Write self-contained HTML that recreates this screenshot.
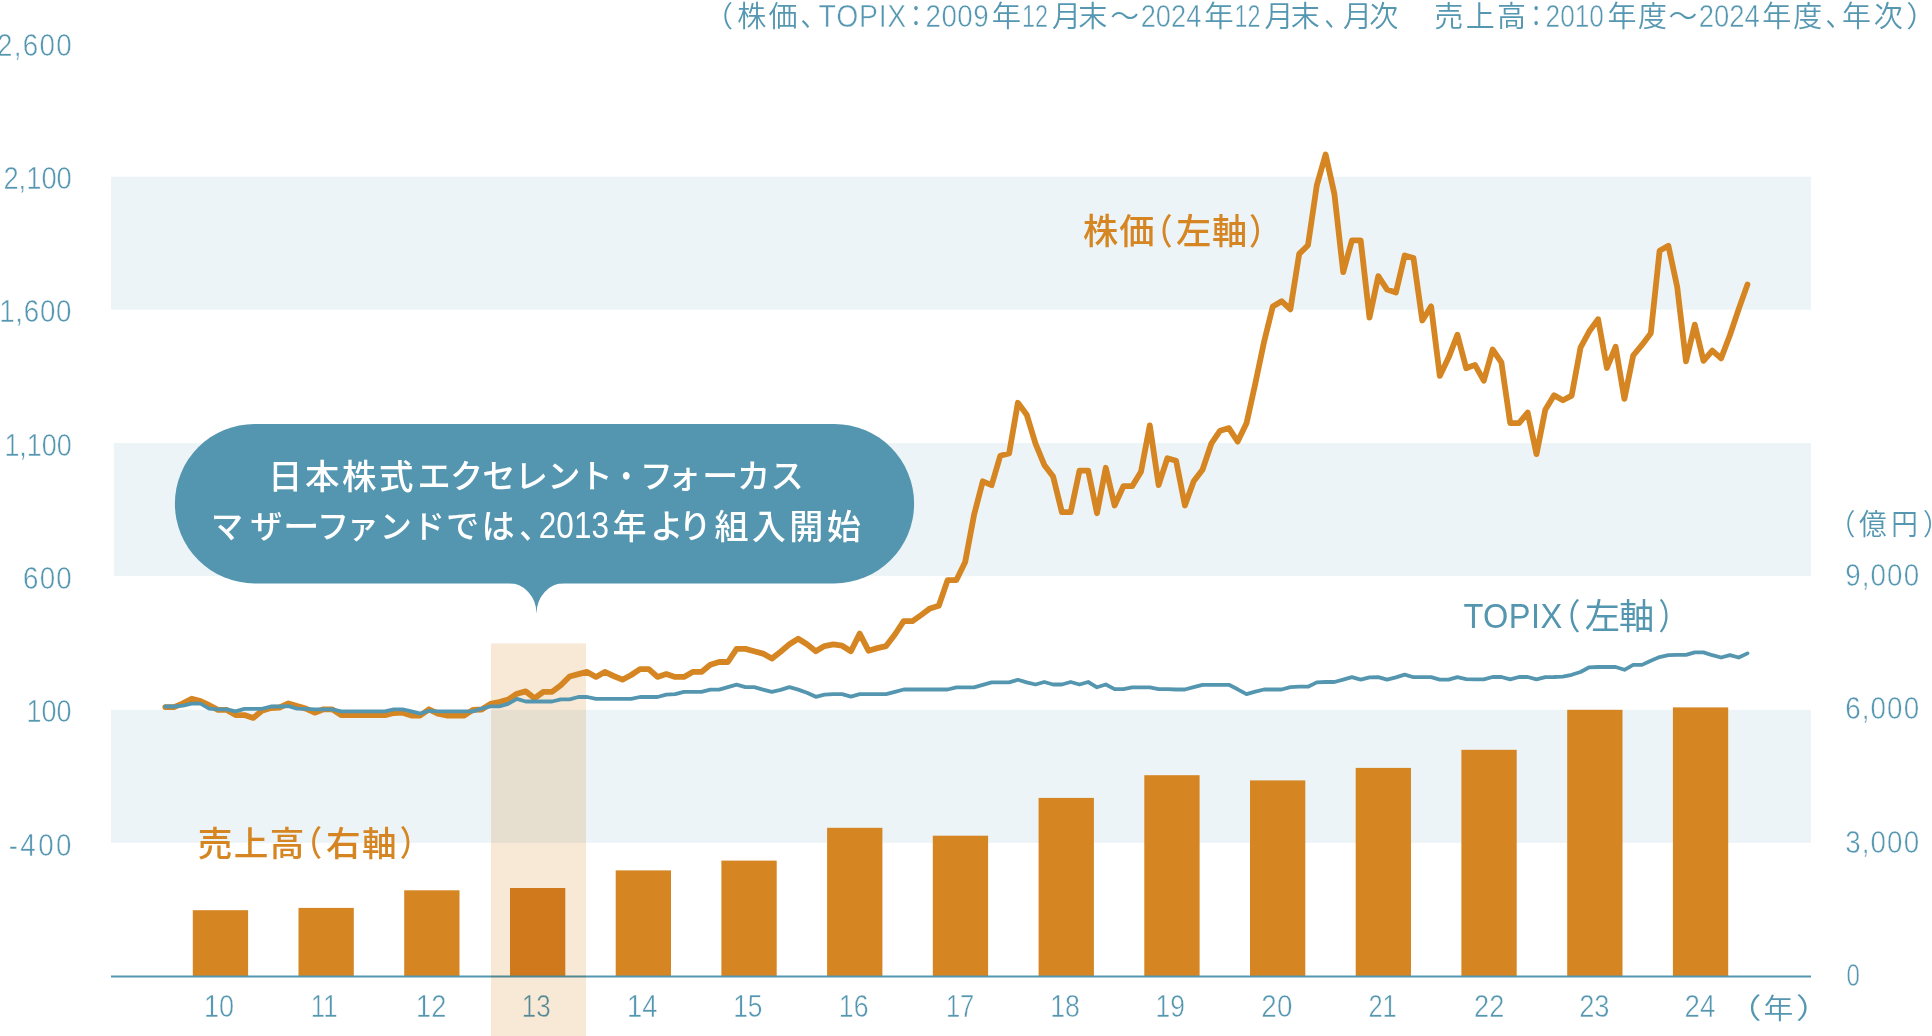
<!DOCTYPE html>
<html lang="ja"><head><meta charset="utf-8"><title>株価・TOPIX・売上高</title>
<style>
html,body{margin:0;padding:0;background:#fff;}
body{width:1932px;height:1036px;overflow:hidden;}
svg{display:block;}
text{font-family:"Liberation Sans","Noto Sans CJK JP",sans-serif;white-space:pre;}
</style></head><body>
<svg width="1932" height="1036" viewBox="0 0 1932 1036">
<rect x="111" y="176.7" width="1700" height="133" fill="#edf4f7"/>
<rect x="113.8" y="443.1" width="1697.2" height="132.8" fill="#edf4f7"/>
<rect x="111" y="709.8" width="1700" height="133" fill="#edf4f7"/>
<g fill="#d58521">
<rect x="192.8" y="910.2" width="55.3" height="65.8"/>
<rect x="298.5" y="907.9" width="55.3" height="68.1"/>
<rect x="404.2" y="890.3" width="55.3" height="85.7"/>
<rect x="510.0" y="888.0" width="55.3" height="88.0"/>
<rect x="615.7" y="870.4" width="55.3" height="105.6"/>
<rect x="721.4" y="860.6" width="55.3" height="115.4"/>
<rect x="827.1" y="827.8" width="55.3" height="148.2"/>
<rect x="932.8" y="835.7" width="55.3" height="140.3"/>
<rect x="1038.6" y="797.9" width="55.3" height="178.1"/>
<rect x="1144.3" y="775.2" width="55.3" height="200.8"/>
<rect x="1250.0" y="780.4" width="55.3" height="195.6"/>
<rect x="1355.7" y="767.9" width="55.3" height="208.1"/>
<rect x="1461.4" y="749.8" width="55.3" height="226.2"/>
<rect x="1567.2" y="709.8" width="55.3" height="266.2"/>
<rect x="1672.9" y="707.4" width="55.3" height="268.6"/>
</g>
<rect x="111" y="975.5" width="1700" height="2" fill="#5496af"/>
<g fill="#5597b1"><text font-size="31.55" font-weight="400" transform="translate(204.08 1017.08) scale(0.8575 1)" stroke="#fff" stroke-width="0.5">10</text></g>
<g fill="#5597b1"><text font-size="31.55" font-weight="400" transform="translate(310.87 1017.08) scale(0.8152 1)" stroke="#fff" stroke-width="0.5">11</text></g>
<g fill="#5597b1"><text font-size="31.55" font-weight="400" transform="translate(416.07 1017.08) scale(0.8625 1)" stroke="#fff" stroke-width="0.5">12</text></g>
<g fill="#5597b1"><text font-size="31.55" font-weight="400" transform="translate(521.85 1017.08) scale(0.8237 1)" stroke="#fff" stroke-width="0.5">13</text></g>
<g fill="#5597b1"><text font-size="31.55" font-weight="400" transform="translate(627.07 1017.08) scale(0.8667 1)" stroke="#fff" stroke-width="0.5">14</text></g>
<g fill="#5597b1"><text font-size="31.55" font-weight="400" transform="translate(733.13 1017.08) scale(0.8360 1)" stroke="#fff" stroke-width="0.5">15</text></g>
<g fill="#5597b1"><text font-size="31.55" font-weight="400" transform="translate(838.81 1017.08) scale(0.8452 1)" stroke="#fff" stroke-width="0.5">16</text></g>
<g fill="#5597b1"><text font-size="31.55" font-weight="400" transform="translate(945.88 1017.08) scale(0.8086 1)" stroke="#fff" stroke-width="0.5">17</text></g>
<g fill="#5597b1"><text font-size="31.55" font-weight="400" transform="translate(1050.21 1017.08) scale(0.8452 1)" stroke="#fff" stroke-width="0.5">18</text></g>
<g fill="#5597b1"><text font-size="31.55" font-weight="400" transform="translate(1155.53 1017.08) scale(0.8360 1)" stroke="#fff" stroke-width="0.5">19</text></g>
<g fill="#5597b1"><text font-size="31.55" font-weight="400" transform="translate(1261.32 1017.08) scale(0.8800 1)" letter-spacing="0.33" stroke="#fff" stroke-width="0.5">20</text></g>
<g fill="#5597b1"><text font-size="31.55" font-weight="400" transform="translate(1368.39 1017.08) scale(0.8053 1)" stroke="#fff" stroke-width="0.5">21</text></g>
<g fill="#5597b1"><text font-size="31.55" font-weight="400" transform="translate(1474.04 1017.08) scale(0.8606 1)" stroke="#fff" stroke-width="0.5">22</text></g>
<g fill="#5597b1"><text font-size="31.55" font-weight="400" transform="translate(1579.14 1017.08) scale(0.8647 1)" stroke="#fff" stroke-width="0.5">23</text></g>
<g fill="#5597b1"><text font-size="31.55" font-weight="400" transform="translate(1684.62 1017.08) scale(0.8767 1)" stroke="#fff" stroke-width="0.5">24</text></g>
<rect x="491" y="643.4" width="95" height="392.6" fill="#f8e8d6" style="mix-blend-mode:multiply"/>
<polyline fill="none" stroke="#d58521" stroke-width="5.8" stroke-linejoin="round" stroke-linecap="round" points="165.3,707.1 174.1,707.1 182.9,703.4 191.7,698.7 200.5,701.1 209.2,705.2 218.0,709.9 226.8,709.9 235.6,715.1 244.4,715.1 253.2,717.9 262.0,710.8 270.8,708.0 279.6,707.5 288.4,703.4 297.1,706.1 305.9,708.6 314.7,712.7 323.5,709.3 332.3,709.3 341.1,715.1 349.9,715.1 358.7,715.1 367.5,715.1 376.3,715.1 385.0,715.1 393.8,713.0 402.6,712.7 411.4,715.5 420.2,715.5 429.0,709.3 437.8,713.6 446.6,715.5 455.4,715.5 464.2,715.5 472.9,709.9 481.7,709.5 490.5,703.9 499.3,702.0 508.1,699.6 516.9,693.7 525.7,691.4 534.5,698.3 543.3,691.8 552.1,691.8 560.8,685.3 569.6,676.5 578.4,674.1 587.2,671.9 596.0,676.9 604.8,671.9 613.6,676.0 622.4,679.7 631.2,675.0 640.0,669.1 648.8,669.1 657.5,676.9 666.3,674.1 675.1,676.9 683.9,676.9 692.7,671.9 701.5,671.9 710.3,664.8 719.1,662.0 727.9,662.0 736.6,648.9 745.4,648.9 754.2,651.2 763.0,653.6 771.8,658.6 780.6,651.7 789.4,644.3 798.2,638.7 807.0,644.3 815.8,651.2 824.5,646.1 833.3,644.3 842.1,645.7 850.9,651.3 859.7,633.6 868.5,650.7 877.3,648.1 886.1,646.1 894.9,634.5 903.7,621.1 912.5,621.1 921.2,615.0 930.0,608.4 938.8,605.7 947.6,580.1 956.4,580.1 965.2,561.9 974.0,515.1 982.8,481.3 991.6,485.2 1000.3,455.7 1009.1,453.4 1017.9,402.8 1026.7,414.7 1035.5,443.7 1044.3,464.9 1053.1,476.5 1061.9,512.2 1070.7,512.2 1079.5,470.7 1088.2,470.7 1097.0,513.2 1105.8,467.8 1114.6,505.5 1123.4,486.2 1132.2,486.2 1141.0,471.7 1149.8,425.4 1158.6,485.2 1167.4,458.2 1176.1,460.7 1184.9,505.5 1193.7,481.3 1202.5,469.8 1211.3,443.7 1220.1,430.7 1228.9,428.1 1237.7,441.6 1246.5,423.3 1255.3,383.6 1264.0,342.1 1272.8,306.4 1281.6,301.2 1290.4,309.3 1299.2,253.9 1308.0,245.2 1316.8,185.4 1325.6,154.5 1334.4,194.0 1343.2,272.2 1351.9,240.4 1360.7,240.4 1369.5,317.6 1378.3,276.1 1387.1,289.6 1395.9,292.5 1404.7,255.4 1413.5,258.1 1422.3,320.5 1431.1,306.4 1439.8,375.9 1448.6,357.6 1457.4,334.8 1466.2,368.2 1475.0,364.9 1483.8,380.7 1492.6,349.5 1501.4,362.4 1510.2,423.2 1519.0,423.2 1527.7,412.6 1536.5,454.1 1545.3,409.7 1554.1,395.2 1562.9,400.3 1571.7,395.6 1580.5,347.7 1589.3,331.3 1598.1,319.2 1606.9,368.0 1615.6,346.8 1624.4,398.9 1633.2,355.5 1642.0,344.9 1650.8,333.3 1659.6,250.8 1668.4,245.8 1677.2,286.9 1686.0,361.3 1694.8,324.6 1703.5,360.9 1712.3,350.6 1721.1,358.4 1729.9,335.2 1738.7,309.1 1747.5,284.4"/>
<polyline fill="none" stroke="#5496af" stroke-width="3.8" stroke-linejoin="round" stroke-linecap="round" points="165.3,706.5 174.1,706.5 182.9,705.6 191.7,703.7 200.5,703.7 209.2,708.6 218.0,709.3 226.8,709.3 235.6,711.4 244.4,708.9 253.2,708.9 262.0,708.9 270.8,706.5 279.6,706.5 288.4,706.1 297.1,708.6 305.9,708.9 314.7,709.3 323.5,709.3 332.3,709.3 341.1,711.4 349.9,711.4 358.7,711.4 367.5,711.4 376.3,711.4 385.0,711.4 393.8,709.3 402.6,709.3 411.4,711.4 420.2,713.6 429.0,710.8 437.8,711.4 446.6,711.4 455.4,711.4 464.2,711.4 472.9,711.4 481.7,708.6 490.5,706.3 499.3,706.3 508.1,703.9 516.9,698.9 525.7,701.5 534.5,701.5 543.3,701.5 552.1,701.5 560.8,699.3 569.6,699.3 578.4,697.0 587.2,697.0 596.0,698.9 604.8,698.9 613.6,698.9 622.4,698.9 631.2,698.9 640.0,697.0 648.8,697.0 657.5,697.0 666.3,694.6 675.1,694.2 683.9,691.8 692.7,691.8 701.5,691.8 710.3,689.6 719.1,689.6 727.9,687.1 736.6,684.7 745.4,687.1 754.2,687.1 763.0,689.6 771.8,691.8 780.6,689.9 789.4,687.1 798.2,689.6 807.0,692.7 815.8,696.8 824.5,694.6 833.3,694.2 842.1,694.2 850.9,696.6 859.7,694.2 868.5,694.2 877.3,694.2 886.1,694.2 894.9,691.9 903.7,689.5 912.5,689.5 921.2,689.5 930.0,689.5 938.8,689.5 947.6,689.5 956.4,687.3 965.2,687.3 974.0,687.3 982.8,684.8 991.6,682.4 1000.3,682.4 1009.1,682.4 1017.9,679.8 1026.7,682.4 1035.5,684.5 1044.3,682.0 1053.1,684.5 1061.9,684.5 1070.7,682.0 1079.5,684.5 1088.2,682.0 1097.0,687.3 1105.8,684.5 1114.6,689.1 1123.4,689.1 1132.2,687.3 1141.0,687.3 1149.8,687.3 1158.6,689.1 1167.4,689.1 1176.1,689.5 1184.9,689.5 1193.7,687.1 1202.5,684.8 1211.3,684.8 1220.1,684.8 1228.9,684.8 1237.7,689.3 1246.5,694.2 1255.3,691.7 1264.0,689.5 1272.8,689.5 1281.6,689.5 1290.4,687.1 1299.2,686.7 1308.0,686.7 1316.8,682.4 1325.6,682.0 1334.4,682.0 1343.2,679.6 1351.9,677.2 1360.7,679.6 1369.5,677.4 1378.3,677.2 1387.1,679.6 1395.9,677.4 1404.7,674.6 1413.5,677.2 1422.3,677.2 1431.1,677.2 1439.8,679.6 1448.6,679.6 1457.4,677.2 1466.2,679.1 1475.0,679.4 1483.8,679.4 1492.6,677.0 1501.4,677.0 1510.2,679.4 1519.0,677.0 1527.7,677.0 1536.5,679.4 1545.3,677.2 1554.1,677.0 1562.9,676.6 1571.7,674.8 1580.5,672.0 1589.3,667.3 1598.1,667.0 1606.9,667.0 1615.6,667.0 1624.4,669.8 1633.2,664.9 1642.0,664.9 1650.8,660.8 1659.6,657.1 1668.4,655.2 1677.2,654.8 1686.0,654.8 1694.8,652.4 1703.5,652.4 1712.3,655.2 1721.1,657.5 1729.9,655.2 1738.7,657.5 1747.5,653.4"/>
<rect x="174.9" y="423.9" width="739.2" height="159.5" rx="79.75" fill="#5496af"/>
<path d="M508.4,583 A28.1,30.4 0 0 1 536.5,613.4 A28.1,30.4 0 0 1 564.6,583 Z" fill="#5496af"/>
<g fill="#5597b1"><text font-size="29.04" font-weight="350" transform="translate(704.10 26.59)">（</text><text font-size="29.04" font-weight="350" transform="translate(737.20 26.59)" letter-spacing="2.17">株価</text><text font-size="29.04" font-weight="350" transform="translate(800.61 26.59) scale(0.8889 1)">、</text><text font-size="30.86" font-weight="400" transform="translate(818.60 27.09) scale(0.9200 1)" letter-spacing="0.81" stroke="#fff" stroke-width="0.5">TOPIX</text><text font-size="29.04" font-weight="350" transform="translate(903.58 26.59) scale(0.8600 1)">：</text><text font-size="31.55" font-weight="400" transform="translate(925.52 27.08) scale(0.8800 1)" letter-spacing="0.54" stroke="#fff" stroke-width="0.5">2009</text><text font-size="29.04" font-weight="350" transform="translate(991.79 26.59) scale(1.0111 1)">年</text><text font-size="31.55" font-weight="400" transform="translate(1022.02 27.08) scale(0.7420 1)" stroke="#fff" stroke-width="0.5">12</text><text font-size="29.04" font-weight="350" transform="translate(1052.00 26.59)" letter-spacing="-2.73">月末</text><text font-size="29.04" font-weight="350" transform="translate(1110.31 26.59) scale(0.9926 1)">～</text><text font-size="31.55" font-weight="400" transform="translate(1140.74 27.08) scale(0.8629 1)" stroke="#fff" stroke-width="0.5">2024</text><text font-size="29.04" font-weight="350" transform="translate(1204.29 26.59) scale(1.0148 1)">年</text><text font-size="31.55" font-weight="400" transform="translate(1234.62 27.08) scale(0.7388 1)" stroke="#fff" stroke-width="0.5">12</text><text font-size="29.04" font-weight="350" transform="translate(1264.50 26.59)" letter-spacing="-2.73">月末</text><text font-size="29.04" font-weight="350" transform="translate(1324.58 26.59) scale(0.8222 1)">、</text><text font-size="29.04" font-weight="350" transform="translate(1343.00 26.59)" letter-spacing="-2.83">月次</text><text font-size="29.04" font-weight="350" transform="translate(1404.00 26.59)">　</text><text font-size="29.04" font-weight="350" transform="translate(1434.30 26.59)" letter-spacing="2.32">売上高</text><text font-size="29.04" font-weight="350" transform="translate(1524.26 26.59) scale(0.8200 1)">：</text><text font-size="31.55" font-weight="400" transform="translate(1545.57 27.08) scale(0.8308 1)" stroke="#fff" stroke-width="0.5">2010</text><text font-size="29.04" font-weight="350" transform="translate(1607.50 26.59)" letter-spacing="1.47">年度</text><text font-size="29.04" font-weight="350" transform="translate(1668.41 26.59) scale(0.9926 1)">～</text><text font-size="31.55" font-weight="400" transform="translate(1698.73 27.08) scale(0.8702 1)" stroke="#fff" stroke-width="0.5">2024</text><text font-size="29.04" font-weight="350" transform="translate(1762.20 26.59)" letter-spacing="2.07">年度</text><text font-size="29.04" font-weight="350" transform="translate(1825.51 26.59) scale(0.8889 1)">、</text><text font-size="29.04" font-weight="350" transform="translate(1841.90 26.59)" letter-spacing="2.77">年次</text><text font-size="29.04" font-weight="350" transform="translate(1906.24 26.59) scale(1.0625 1)">）</text></g>
<g fill="#5597b1"><text font-size="31.55" font-weight="400" transform="translate(-3.08 55.58) scale(0.8800 1)" letter-spacing="1.54" stroke="#fff" stroke-width="0.5">2,600</text></g>
<g fill="#5597b1"><text font-size="31.55" font-weight="400" transform="translate(3.43 188.88) scale(0.8660 1)" stroke="#fff" stroke-width="0.5">2,100</text></g>
<g fill="#5597b1"><text font-size="31.55" font-weight="400" transform="translate(-0.76 322.38) scale(0.8800 1)" letter-spacing="0.79" stroke="#fff" stroke-width="0.5">1,600</text></g>
<g fill="#5597b1"><text font-size="31.55" font-weight="400" transform="translate(4.39 455.58) scale(0.8538 1)" stroke="#fff" stroke-width="0.5">1,100</text></g>
<g fill="#5597b1"><text font-size="31.55" font-weight="400" transform="translate(23.12 588.88) scale(0.8800 1)" letter-spacing="1.34" stroke="#fff" stroke-width="0.5">600</text></g>
<g fill="#5597b1"><text font-size="31.55" font-weight="400" transform="translate(26.59 722.28) scale(0.8528 1)" stroke="#fff" stroke-width="0.5">100</text></g>
<g fill="#5597b1"><text font-size="31.55" font-weight="400" transform="translate(8.72 855.58) scale(0.8800 1)" letter-spacing="2.73" stroke="#fff" stroke-width="0.5">-400</text></g>
<g fill="#5597b1"><text font-size="31.55" font-weight="400" transform="translate(1845.22 585.88) scale(0.8800 1)" letter-spacing="1.25" stroke="#fff" stroke-width="0.5">9,000</text></g>
<g fill="#5597b1"><text font-size="31.55" font-weight="400" transform="translate(1845.22 719.38) scale(0.8800 1)" letter-spacing="1.25" stroke="#fff" stroke-width="0.5">6,000</text></g>
<g fill="#5597b1"><text font-size="31.55" font-weight="400" transform="translate(1845.22 852.68) scale(0.8800 1)" letter-spacing="1.25" stroke="#fff" stroke-width="0.5">3,000</text></g>
<g fill="#5597b1"><text font-size="31.55" font-weight="400" transform="translate(1846.44 985.88) scale(0.7625 1)" stroke="#fff" stroke-width="0.5">0</text></g>
<g fill="#5597b1"><text font-size="29.03" font-weight="350" transform="translate(1828.40 535.39) scale(0.9250 1)">（</text><text font-size="29.03" font-weight="350" transform="translate(1859.10 535.39) scale(0.9552 1)">億</text><text font-size="29.03" font-weight="350" transform="translate(1891.37 535.39) scale(0.9160 1)">円</text><text font-size="29.03" font-weight="350" transform="translate(1922.88 535.39) scale(0.9250 1)">）</text></g>
<g fill="#5597b1"><text font-size="28.19" font-weight="350" transform="translate(1726.25 1018.96) scale(1.2500 1)">（</text><text font-size="28.19" font-weight="350" transform="translate(1763.44 1018.96) scale(1.0577 1)">年</text><text font-size="28.19" font-weight="350" transform="translate(1795.71 1018.96) scale(1.2875 1)">）</text></g>
<g fill="#d58521"><text font-size="35.21" font-weight="500" transform="translate(1083.00 243.53)" letter-spacing="1.00">株価</text><text font-size="35.21" font-weight="500" transform="translate(1141.31 243.53) scale(0.8909 1)">（</text><text font-size="35.21" font-weight="500" transform="translate(1176.00 243.53)" letter-spacing="0.80">左軸</text><text font-size="35.21" font-weight="500" transform="translate(1249.01 243.53) scale(0.8909 1)">）</text></g>
<g fill="#5496af"><text font-size="35.43" font-weight="400" transform="translate(1463.40 628.45) scale(0.9200 1)" letter-spacing="0.44">TOPIX</text><text font-size="35.27" font-weight="400" transform="translate(1547.68 629.28) scale(0.9300 1)">（</text><text font-size="35.27" font-weight="400" transform="translate(1584.80 629.28)" letter-spacing="-1.07">左軸</text><text font-size="35.27" font-weight="400" transform="translate(1658.56 629.28) scale(0.8400 1)">）</text></g>
<g fill="#d58521"><text font-size="34.63" font-weight="500" transform="translate(197.70 856.24)" letter-spacing="1.42">売上高</text><text font-size="34.63" font-weight="500" transform="translate(291.00 856.24) scale(0.9000 1)">（</text><text font-size="34.63" font-weight="500" transform="translate(326.00 856.24)" letter-spacing="1.27">右軸</text><text font-size="34.63" font-weight="500" transform="translate(399.63 856.24) scale(0.8727 1)">）</text></g>
<g fill="#ffffff"><text font-size="34.47" font-weight="500" transform="translate(268.00 488.90)" letter-spacing="2.55">日本株式</text><text font-size="33.21" font-weight="500" transform="translate(417.50 488.07)" letter-spacing="-0.78">エクセレント</text><text font-size="33.21" font-weight="500" transform="translate(611.53 488.07) scale(0.8889 1)">・</text><text font-size="33.21" font-weight="500" transform="translate(639.80 488.07)" letter-spacing="-5.20">フォ</text><text font-size="33.21" font-weight="500" transform="translate(702.01 488.07) scale(1.0963 1)">ー</text><text font-size="33.21" font-weight="500" transform="translate(737.00 488.07)" letter-spacing="0.40">カス</text></g>
<g fill="#ffffff"><text font-size="32.11" font-weight="500" transform="translate(211.10 537.52)" letter-spacing="7.11">マザ</text><text font-size="32.11" font-weight="500" transform="translate(282.98 537.52) scale(1.1385 1)">ー</text><text font-size="32.11" font-weight="500" transform="translate(317.10 537.52)" letter-spacing="-2.39">ファ</text><text font-size="32.11" font-weight="500" transform="translate(379.80 537.52)" letter-spacing="0.91">ンド</text><text font-size="33.21" font-weight="500" transform="translate(446.00 537.74)" letter-spacing="2.30">では</text><text font-size="33.21" font-weight="500" transform="translate(519.36 537.74) scale(0.9364 1)">、</text><text font-size="36.06" font-weight="400" transform="translate(538.83 538.44) scale(0.8740 1)">2013</text><text font-size="34.11" font-weight="500" transform="translate(612.50 538.73)">年</text><text font-size="33.21" font-weight="500" transform="translate(650.20 537.74)" letter-spacing="-4.20">より</text><text font-size="34.11" font-weight="500" transform="translate(714.40 538.73)" letter-spacing="3.34">組入開始</text></g>
</svg>
</body></html>
